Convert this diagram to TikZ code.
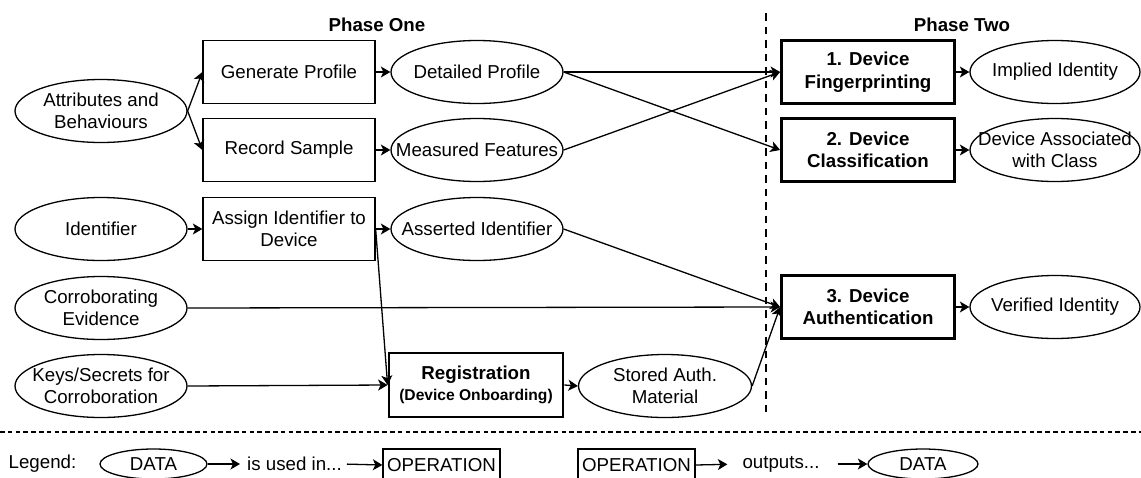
\documentclass[tikz,border=0pt]{standalone}
\usepackage{fontspec}
\setmainfont{Liberation Sans}
\usetikzlibrary{shapes.geometric,arrows.meta}

\begin{document}
\begin{tikzpicture}[x=1pt,y=-1pt,
  txt/.style={font=\fontsize{18.7pt}{22.5pt}\selectfont, align=center, inner sep=0pt},
  boldtxt/.style={font=\fontsize{18.7pt}{22.5pt}\selectfont\bfseries, align=center, inner sep=0pt},
  opbox/.style={draw, rectangle, line width=1.3pt, minimum width=172pt, minimum height=63pt, txt},
  keybox/.style={draw, rectangle, line width=2.8pt, minimum width=173pt, minimum height=63pt, boldtxt},
  dataell/.style={draw, ellipse, line width=1.3pt, minimum width=172pt, minimum height=63pt,
                  inner sep=0pt, label={[txt]center:#1}},
  arr/.style={-{Stealth[length=9.5pt,width=11pt,inset=2.5pt]}, line width=1.3pt},
]
\useasboundingbox (0,0) rectangle (1141,477);
\clip (0,0) rectangle (1141,477);

% phase headings
\node[boldtxt] (ph1) at (377,25) {Phase One};
\node[boldtxt] (ph2) at (962,25) {Phase Two};

% phase one: inputs
\node[dataell={Attributes and\\Behaviours}] (attr) at (101,111) {};
\node[dataell={Identifier}] (ident) at (101,229) {};
\node[dataell={Corroborating\\Evidence}] (corr) at (101,308) {};
\node[dataell={Keys/Secrets for\\Corroboration}] (keys) at (101,386) {};

% phase one: operations
\node[opbox] (gen) at (289,72) {Generate Profile};
\node[opbox] (rec) at (289,150) {Record Sample};
\node[opbox] (assign) at (289,229) {Assign Identifier to\\Device};
\node[keybox, minimum width=174pt, minimum height=64pt] (reg) at (476,385)
  {Registration\\[-1pt]{\fontsize{15.6pt}{19pt}\selectfont (Device Onboarding)}};

% phase one: outputs
\node[dataell={Detailed Profile}] (det) at (477,72) {};
\node[dataell={Measured Features}] (meas) at (477,150) {};
\node[dataell={Asserted Identifier}] (asrt) at (477,229) {};
\node[dataell={Stored Auth.\\Material}, minimum width=173pt] (stored) at (665,386) {};

% phase two: operations
\node[keybox] (fp) at (868,72) {1. Device\\Fingerprinting};
\node[keybox] (cls) at (868,150) {2. Device\\Classification};
\node[keybox] (auth) at (868,307) {3. Device\\Authentication};

% phase two: outputs
\node[dataell={Implied Identity}, minimum width=170pt] (impl) at (1055,72) {};
\node[dataell={Device Associated\\with Class}, minimum width=170pt] (assoc) at (1055,150) {};
\node[dataell={Verified Identity}, minimum width=170pt] (verif) at (1055,307) {};

% phase separator
\draw[line width=2.8pt, dash pattern=on 7.5pt off 6pt] (766,13) -- (766,415);

% connectors, phase one
\draw[arr] (attr.east) -- (gen.west);
\draw[arr] (attr.east) -- (rec.west);
\draw[arr] (ident.east) -- (assign.west);
\draw[arr] (gen.east) -- (det.west);
\draw[arr] (rec.east) -- (meas.west);
\draw[arr] (assign.east) -- (asrt.west);
\draw[arr] (assign.east) -- (reg.west);
\draw[arr] (keys.east) -- (reg.west);
\draw[arr] (reg.east) -- (stored.west);

% connectors into phase two
\draw[arr] (det.east) -- (fp.west);
\draw[arr] (det.east) -- (cls.west);
\draw[arr] (meas.east) -- (fp.west);
\draw[arr] (asrt.east) -- (auth.west);
\draw[arr] (corr.east) -- (auth.west);
\draw[arr] (stored.east) -- (auth.west);

% connectors, phase two
\draw[arr] (fp.east) -- (impl.west);
\draw[arr] (cls.east) -- (assoc.west);
\draw[arr] (auth.east) -- (verif.west);

% legend
\draw[line width=1.3pt, dash pattern=on 4.5pt off 3.3pt] (0,432) -- (1141,432);
\node[txt] (leg) at (42.5,464) {Legend:};
\node[dataell={DATA}, minimum width=107pt, minimum height=30pt] (dataL) at (153.5,464) {};
\node[txt] (usedin) at (294.5,464) {is used in...};
\node[draw, rectangle, line width=1.3pt, minimum width=117pt, minimum height=32pt, txt] (opL) at (441.5,465) {OPERATION};
\node[draw, rectangle, line width=1.3pt, minimum width=117pt, minimum height=32pt, txt] (opR) at (636.5,465) {OPERATION};
\node[txt] (outputs) at (781,464) {outputs...};
\node[dataell={DATA}, minimum width=110pt, minimum height=30pt] (dataR) at (923,464) {};

\draw[arr, shorten >=7pt] (dataL.east) -- (usedin.west);
\draw[arr, shorten <=5pt] (usedin.east) -- (opL.west);
\draw[arr, shorten >=15pt] (opR.east) -- (outputs.west);
\draw[arr, shorten <=18pt] (outputs.east) -- (dataR.west);
\end{tikzpicture}
\end{document}
